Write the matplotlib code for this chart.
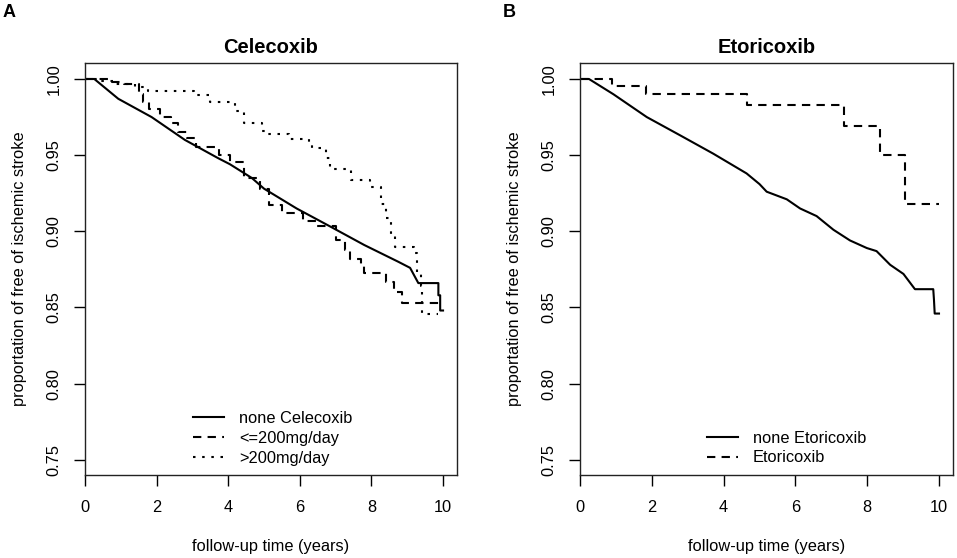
import matplotlib
matplotlib.use('Agg')
import matplotlib.pyplot as plt

plt.rcParams['font.family'] = ['Liberation Sans', 'DejaVu Sans']

# Panel A - Celecoxib
cel_none_t = [0, 0.26, 0.93, 1.86, 2.79, 3.72, 4.05, 4.66, 5.0, 5.91, 6.9, 7.8, 8.75, 9.08, 9.31, 9.87, 9.87, 9.92, 9.92, 10.0]
cel_none_v = [1.0, 1.0, 0.987, 0.975, 0.960, 0.948, 0.944, 0.935, 0.928, 0.915, 0.9025, 0.891, 0.880, 0.876, 0.866, 0.866, 0.858, 0.858, 0.848, 0.848]

cel_low_t = [0, 0.75, 1.08, 1.50, 1.62, 1.80, 2.10, 2.40, 2.60, 2.85, 3.10, 3.75, 4.05, 4.45, 4.90, 5.15,
             5.50, 6.10, 6.45, 7.00, 7.25, 7.40, 7.70, 7.78, 8.40, 8.62, 8.85, 10.0]
cel_low_v = [1.0, 0.998, 0.9965, 0.990, 0.985, 0.980, 0.975, 0.971, 0.965, 0.961, 0.9556, 0.950, 0.9455, 0.935,
             0.928, 0.917, 0.912, 0.907, 0.9035, 0.894, 0.888, 0.882, 0.877, 0.8725, 0.867, 0.860, 0.853, 0.853]

cel_high_t = [0, 0.45, 0.85, 1.40, 1.75, 3.05, 3.50, 4.20, 4.45, 4.95, 5.08, 5.70, 6.25, 6.33, 6.72, 6.85,
              7.42, 7.95, 8.28, 8.42, 8.55, 8.65, 9.20, 9.28, 9.38, 9.41, 9.87]
cel_high_v = [1.0, 0.999, 0.997, 0.995, 0.992, 0.9895, 0.985, 0.979, 0.971, 0.966, 0.9637, 0.9606, 0.958, 0.955,
              0.948, 0.941, 0.934, 0.929, 0.918, 0.909, 0.898, 0.890, 0.886, 0.8725, 0.864, 0.846, 0.846]

# Panel B - Etoricoxib
eto_none_t = [0, 0.25, 0.93, 1.86, 2.79, 3.71, 4.64, 5.0, 5.20, 5.76, 6.13, 6.59, 7.06, 7.52, 7.99, 8.26, 8.64,
              9.01, 9.33, 9.84, 9.86, 9.88, 10.0]
eto_none_v = [1.0, 1.0, 0.990, 0.975, 0.963, 0.951, 0.938, 0.931, 0.926, 0.921, 0.915, 0.910, 0.901, 0.894, 0.889,
              0.887, 0.878, 0.872, 0.862, 0.862, 0.855, 0.846, 0.846]

eto_t = [0, 0.88, 1.83, 4.64, 7.35, 8.37, 9.06, 10.0]
eto_v = [1.0, 0.9954, 0.9904, 0.983, 0.969, 0.950, 0.918, 0.918]

xticks = [0, 2, 4, 6, 8, 10]
yticks = [0.75, 0.80, 0.85, 0.90, 0.95, 1.00]

lw = 1.5
fs = 11.8
dashed = (0, (4, 3))
dotted = (0, (1.2, 3.2))

fig = plt.figure(figsize=(9.57, 5.58), dpi=100)
axA = fig.add_axes([85 / 957, 83 / 558, 372 / 957, 412 / 558])
axB = fig.add_axes([580 / 957, 83 / 558, 373 / 957, 412 / 558])

axA.plot(cel_none_t, cel_none_v, color='black', lw=lw, label='none Celecoxib')
axA.step(cel_low_t, cel_low_v, where='post', color='black', lw=lw, ls=dashed, label='<=200mg/day')
axA.step(cel_high_t, cel_high_v, where='post', color='black', lw=lw, ls=dotted, label='>200mg/day')

axB.plot(eto_none_t, eto_none_v, color='black', lw=lw, label='none Etoricoxib')
axB.step(eto_t, eto_v, where='post', color='black', lw=lw, ls=dashed, label='Etoricoxib')

for ax, title in [(axA, 'Celecoxib'), (axB, 'Etoricoxib')]:
    ax.set_xlim(0, 10.39)
    ax.set_ylim(0.74, 1.0105)
    ax.set_xticks(xticks)
    ax.set_xticklabels([str(x) for x in xticks])
    ax.set_yticks(yticks)
    ax.set_yticklabels(['%.2f' % y for y in yticks], rotation=90, va='center')
    ax.tick_params(axis='both', direction='out', length=8, width=1, labelsize=fs, colors='black')
    ax.tick_params(axis='x', pad=10)
    ax.tick_params(axis='y', pad=9)
    for s in ax.spines.values():
        s.set_linewidth(1)
        s.set_color('#222222')
    ax.set_title(title, fontsize=14.5, fontweight='bold', pad=7)
    ax.set_xlabel('follow-up time (years)', fontsize=fs, labelpad=17)
    ax.set_ylabel('proportation of free of ischemic stroke', fontsize=fs, labelpad=14)

axA.legend(loc='upper left', bbox_to_anchor=(0.29, 0.155), frameon=False, fontsize=fs,
           handlelength=1.9, handletextpad=0.9, labelspacing=0.3, borderpad=0, borderaxespad=0)
axB.legend(loc='upper left', bbox_to_anchor=(0.34, 0.108), frameon=False, fontsize=fs,
           handlelength=1.9, handletextpad=0.9, labelspacing=0.3, borderpad=0, borderaxespad=0)

fig.text(3 / 957, 1 - 17 / 558, 'A', fontsize=13, fontweight='bold')
fig.text(503 / 957, 1 - 17 / 558, 'B', fontsize=13, fontweight='bold')

fig.savefig('out.png', dpi=100)
